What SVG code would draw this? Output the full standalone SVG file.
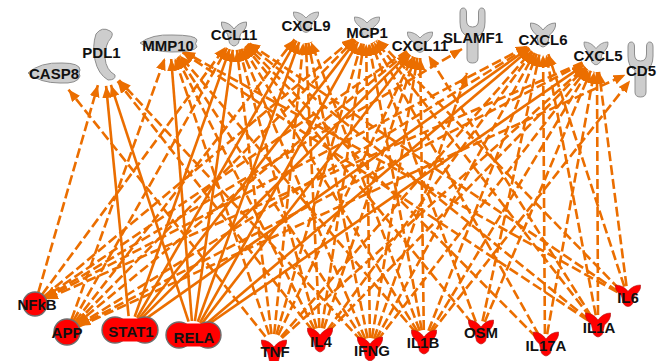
<svg xmlns="http://www.w3.org/2000/svg" xmlns:xlink="http://www.w3.org/1999/xlink" width="663" height="361" viewBox="0 0 663 361">
  <defs>
    <style>
      .e { stroke: #EB6E00; stroke-width: 2.6; fill: none; marker-end: url(#arrow); }
      .d { stroke-dasharray: 10 4; }
      .gray { fill: #CDCDCD; stroke: #8E8E8E; stroke-width: 1; }
      .red { fill: #FF0000; stroke: #B01010; stroke-width: 0.6; }
      .redc { fill: #FF0000; stroke: #6E6E6E; stroke-width: 1.4; }
      .lbl { font-family: "Liberation Sans", Arial, sans-serif; font-weight: bold; font-size: 15px; fill: #111111; text-anchor: middle; }
    </style>
    <marker id="arrow" markerUnits="userSpaceOnUse" markerWidth="12" markerHeight="10" viewBox="0 0 12 10" refX="12" refY="5" orient="auto">
      <path d="M0,0 L12,5 L0,10 Z" fill="#EB6E00"/>
    </marker>
    <!-- cytokine glyph, origin at top centre -->
    <path id="cyto" d="M0,7 Q-5,0 -12.5,0 Q-13.5,6 -6.5,12 L-4.5,21 Q0,27 4.5,21 L6.5,12 Q13.5,6 12.5,0 Q5,0 0,7 Z"/>
    <!-- transmembrane receptor glyph, origin at top centre -->
    <path id="recep" d="M-12.5,5 Q-12.5,0 -9.25,0 Q-6,0 -6,5 L-6,12 Q-6,19 0,19 Q6,19 6,12 L6,5 Q6,0 9.25,0 Q12.5,0 12.5,5 L12.5,14 Q12.5,25 5.5,28 L5.5,50 Q5.5,55 0,55 Q-5.5,55 -5.5,50 L-5.5,28 Q-12.5,25 -12.5,14 Z"/>
  </defs>

  <rect width="663" height="361" fill="#FFFFFF"/>

  <g id="connectors">
    <!-- NFkB -->
    <line class="e d" x1="38.3" y1="292.5" x2="97.9" y2="85.1"/>
    <line class="e d" x1="42.1" y1="294.4" x2="225.5" y2="46.9"/>
    <line class="e d" x1="44.2" y1="296.3" x2="353.7" y2="38.2"/>
    <line class="e d" x1="45.3" y1="297.8" x2="462" y2="49"/>
    <line class="e d" x1="45.6" y1="298.4" x2="527.9" y2="45.9"/>
    <!-- APP -->
    <line class="e d" x1="71.4" y1="319.8" x2="164.9" y2="58.1"/>
    <line class="e d" x1="73.4" y1="320.7" x2="227.1" y2="47.9"/>
    <line class="e d" x1="75" y1="321.7" x2="294.6" y2="39.4"/>
    <line class="e d" x1="76.1" y1="322.7" x2="354.8" y2="39.4"/>
    <line class="e d" x1="78.1" y1="325.2" x2="528.5" y2="46.9"/>
    <line class="e d" x1="78.8" y1="326.6" x2="625.5" y2="74.7"/>
    <!-- STAT1 -->
    <line class="e" x1="128.6" y1="316.1" x2="106.1" y2="85.9"/>
    <line class="e" x1="134.7" y1="316.8" x2="229.7" y2="49.1"/>
    <line class="e" x1="137" y1="317.9" x2="296.5" y2="40.7"/>
    <line class="e" x1="138.6" y1="319" x2="356.1" y2="40.6"/>
    <line class="e" x1="139.9" y1="320.1" x2="408.6" y2="53.3"/>
    <line class="e" x1="141.4" y1="321.9" x2="529.1" y2="47.8"/>
    <!-- RELA -->
    <line class="e" x1="188.6" y1="321.7" x2="110.9" y2="84.9"/>
    <line class="e" x1="191.9" y1="321" x2="171.2" y2="59"/>
    <line class="e" x1="194.9" y1="321.1" x2="232.8" y2="49.8"/>
    <line class="e" x1="197.8" y1="321.8" x2="299.2" y2="42"/>
    <line class="e" x1="199.9" y1="322.8" x2="358.1" y2="41.9"/>
    <line class="e" x1="201.6" y1="323.9" x2="410.2" y2="54.7"/>
    <line class="e" x1="203.7" y1="325.9" x2="530" y2="49"/>
    <line class="e" x1="204.5" y1="327" x2="583.8" y2="65.1"/>
    <!-- TNF -->
    <line class="e d" x1="265.5" y1="336.6" x2="68.5" y2="89.6"/>
    <line class="e d" x1="269.1" y1="334.6" x2="174.8" y2="58.2"/>
    <line class="e d" x1="271.5" y1="334.1" x2="236.9" y2="49.9"/>
    <line class="e d" x1="274.2" y1="334.1" x2="303.3" y2="42.9"/>
    <line class="e d" x1="276.4" y1="334.5" x2="361.5" y2="43.4"/>
    <line class="e d" x1="278.2" y1="335.2" x2="413" y2="56.4"/>
    <line class="e d" x1="280.9" y1="337" x2="531.8" y2="50.8"/>
    <line class="e d" x1="281.9" y1="338" x2="585.1" y2="66.7"/>
    <!-- IL4 -->
    <line class="e d" x1="312.6" y1="330.6" x2="117.6" y2="81.3"/>
    <line class="e d" x1="314.6" y1="329.3" x2="176.8" y2="57.4"/>
    <line class="e d" x1="316.8" y1="328.4" x2="239.3" y2="49.4"/>
    <line class="e d" x1="319.4" y1="328" x2="305.8" y2="43"/>
    <line class="e d" x1="321.8" y1="328.1" x2="363.7" y2="43.8"/>
    <line class="e d" x1="323.8" y1="328.6" x2="414.9" y2="57.2"/>
    <line class="e d" x1="327.1" y1="330.4" x2="532.9" y2="51.7"/>
    <line class="e d" x1="328.4" y1="331.4" x2="585.8" y2="67.5"/>
    <!-- IFNG -->
    <line class="e d" x1="361.8" y1="341.2" x2="119" y2="80.1"/>
    <line class="e d" x1="363.4" y1="340" x2="178.2" y2="56.6"/>
    <line class="e d" x1="365.3" y1="339" x2="241.3" y2="48.7"/>
    <line class="e d" x1="367.6" y1="338.2" x2="308.3" y2="42.7"/>
    <line class="e d" x1="369.9" y1="338" x2="366.2" y2="44"/>
    <line class="e d" x1="371.9" y1="338.2" x2="417.4" y2="57.8"/>
    <line class="e d" x1="374" y1="338.7" x2="467" y2="73"/>
    <line class="e d" x1="375.8" y1="339.5" x2="534.8" y2="52.9"/>
    <line class="e d" x1="377.3" y1="340.5" x2="587.2" y2="68.7"/>
    <!-- IL1B -->
    <line class="e d" x1="416.2" y1="332.9" x2="179.7" y2="55.4"/>
    <line class="e d" x1="417.7" y1="331.8" x2="243.4" y2="47.6"/>
    <line class="e d" x1="419.8" y1="330.8" x2="311" y2="41.9"/>
    <line class="e d" x1="421.8" y1="330.2" x2="368.9" y2="43.7"/>
    <line class="e d" x1="423.8" y1="330" x2="420.2" y2="58"/>
    <line class="e d" x1="428.4" y1="330.8" x2="536.8" y2="53.8"/>
    <line class="e d" x1="430.2" y1="331.7" x2="588.7" y2="69.7"/>
    <line class="e d" x1="431.4" y1="332.6" x2="630.1" y2="80.6"/>
    <!-- OSM -->
    <line class="e d" x1="472.4" y1="323.7" x2="245.1" y2="46.4"/>
    <line class="e d" x1="475.8" y1="321.8" x2="371.6" y2="43"/>
    <line class="e d" x1="482.5" y1="321.3" x2="539.4" y2="54.6"/>
    <line class="e d" x1="484.7" y1="322" x2="590.8" y2="70.7"/>
    <!-- IL17A -->
    <line class="e d" x1="539.1" y1="335.5" x2="373.9" y2="41.9"/>
    <line class="e d" x1="536.5" y1="337.5" x2="246.3" y2="45.3"/>
    <line class="e d" x1="544.9" y1="334" x2="543.1" y2="55"/>
    <line class="e d" x1="547.1" y1="334.2" x2="594.2" y2="71.7"/>
    <!-- IL1A -->
    <line class="e d" x1="588" y1="320.4" x2="182.5" y2="52.3"/>
    <line class="e d" x1="588.7" y1="319.5" x2="247.4" y2="44"/>
    <line class="e d" x1="590.6" y1="317.5" x2="375.8" y2="40.6"/>
    <line class="e d" x1="591.6" y1="316.8" x2="428.5" y2="55.6"/>
    <line class="e d" x1="595.8" y1="315.2" x2="546.2" y2="54.7"/>
    <line class="e d" x1="598" y1="315" x2="597" y2="72"/>
    <!-- IL6 -->
    <line class="e d" x1="617.5" y1="292.2" x2="183.1" y2="51.3"/>
    <line class="e d" x1="619.6" y1="289.4" x2="377.1" y2="39.5"/>
    <line class="e d" x1="624.3" y1="286.6" x2="548.3" y2="54.2"/>
    <line class="e d" x1="626.5" y1="286.1" x2="599" y2="71.9"/>
    <line class="e d" x1="618" y1="291.3" x2="248.3" y2="42.9"/>
    <!-- into APP / NFkB -->
    <line class="e d" x1="407.6" y1="52.2" x2="77" y2="323.7"/>
    <line class="e d" x1="582.8" y1="63.4" x2="78.5" y2="326"/>
    <line class="e d" x1="406.8" y1="51" x2="44.9" y2="297.2"/>
    <line class="e d" x1="582.4" y1="62.5" x2="46" y2="299.2"/>
  </g>

  <!-- upper row -->
  <g id="node-CASP8">
    <path class="gray" d="M28,73 Q40,62 62,63 Q80,63 80,70 Q78,73 80,76 Q78,84 60,83 Q40,83 28,73 Z"/>
    <text class="lbl" x="54" y="79">CASP8</text>
  </g>
  <g id="node-PDL1">
    <path class="gray" d="M110,31 Q102,26 96,34 Q92,46 95,60 Q98,74 108,80 Q116,80 115,75 Q106,70 105,58 Q105,44 111,38 Q114,33 110,31 Z"/>
    <text class="lbl" x="101.5" y="58">PDL1</text>
  </g>
  <g id="node-MMP10">
    <path class="gray" d="M140,43 Q152,34 172,35 Q196,35 197,40 Q194,44 197,47 Q194,52 172,52 Q152,52 140,43 Z"/>
    <text class="lbl" x="168" y="51">MMP10</text>
  </g>
  <g id="node-CCL11">
    <use href="#cyto" class="gray" transform="translate(234,22)"/>
    <text class="lbl" x="234" y="40">CCL11</text>
  </g>
  <g id="node-CXCL9">
    <use href="#cyto" class="gray" transform="translate(306,12) scale(1,0.85)"/>
    <text class="lbl" x="306" y="31">CXCL9</text>
  </g>
  <g id="node-MCP1">
    <use href="#cyto" class="gray" transform="translate(367,17) scale(1,0.85)"/>
    <text class="lbl" x="367" y="38">MCP1</text>
  </g>
  <g id="node-CXCL11">
    <use href="#cyto" class="gray" transform="translate(420,32) scale(1,0.85)"/>
    <text class="lbl" x="420" y="51">CXCL11</text>
  </g>
  <g id="node-SLAMF1">
    <use href="#recep" class="gray" transform="translate(472.5,8)"/>
    <text class="lbl" x="473" y="43">SLAMF1</text>
  </g>
  <g id="node-CXCL6">
    <use href="#cyto" class="gray" transform="translate(543,23)"/>
    <text class="lbl" x="543" y="45">CXCL6</text>
  </g>
  <g id="node-CXCL5">
    <use href="#cyto" class="gray" transform="translate(596,42) scale(0.95,0.95)"/>
    <text class="lbl" x="598" y="61">CXCL5</text>
  </g>
  <g id="node-CD5">
    <use href="#recep" class="gray" transform="translate(640.5,42)"/>
    <text class="lbl" x="641" y="76">CD5</text>
  </g>

  <!-- lower row -->
  <g id="node-NFkB">
    <circle class="redc" cx="35" cy="304" r="12"/>
    <text class="lbl" x="37" y="310">NFkB</text>
  </g>
  <g id="node-APP">
    <circle class="redc" cx="67" cy="332" r="13"/>
    <text class="lbl" x="67" y="338">APP</text>
  </g>
  <g id="node-STAT1">
    <circle class="redc" cx="115" cy="330" r="13"/>
    <circle class="redc" cx="145" cy="330" r="13"/>
    <rect x="115" y="318.5" width="30" height="23" fill="#FF0000"/>
    <text class="lbl" x="131" y="337">STAT1</text>
  </g>
  <g id="node-RELA">
    <circle class="redc" cx="179" cy="335" r="13"/>
    <circle class="redc" cx="208" cy="335" r="13"/>
    <rect x="179" y="323.5" width="29" height="23" fill="#FF0000"/>
    <text class="lbl" x="194" y="343">RELA</text>
  </g>
  <g id="node-TNF">
    <use href="#cyto" class="red" transform="translate(274,340)"/>
    <text class="lbl" x="275" y="357">TNF</text>
  </g>
  <g id="node-IL4">
    <use href="#cyto" class="red" transform="translate(320,328)"/>
    <text class="lbl" x="321" y="347">IL4</text>
  </g>
  <g id="node-IFNG">
    <use href="#cyto" class="red" transform="translate(370,337)"/>
    <text class="lbl" x="372" y="356">IFNG</text>
  </g>
  <g id="node-IL1B">
    <use href="#cyto" class="red" transform="translate(424,330)"/>
    <text class="lbl" x="423" y="348">IL1B</text>
  </g>
  <g id="node-OSM">
    <use href="#cyto" class="red" transform="translate(481,320)"/>
    <text class="lbl" x="481" y="338">OSM</text>
  </g>
  <g id="node-IL17A">
    <use href="#cyto" class="red" transform="translate(546,332)"/>
    <text class="lbl" x="546" y="351">IL17A</text>
  </g>
  <g id="node-IL1A">
    <use href="#cyto" class="red" transform="translate(598,313)"/>
    <text class="lbl" x="599" y="333">IL1A</text>
  </g>
  <g id="node-IL6">
    <use href="#cyto" class="red" transform="translate(628,285) scale(1,0.9)"/>
    <text class="lbl" x="628" y="303">IL6</text>
  </g>
</svg>
